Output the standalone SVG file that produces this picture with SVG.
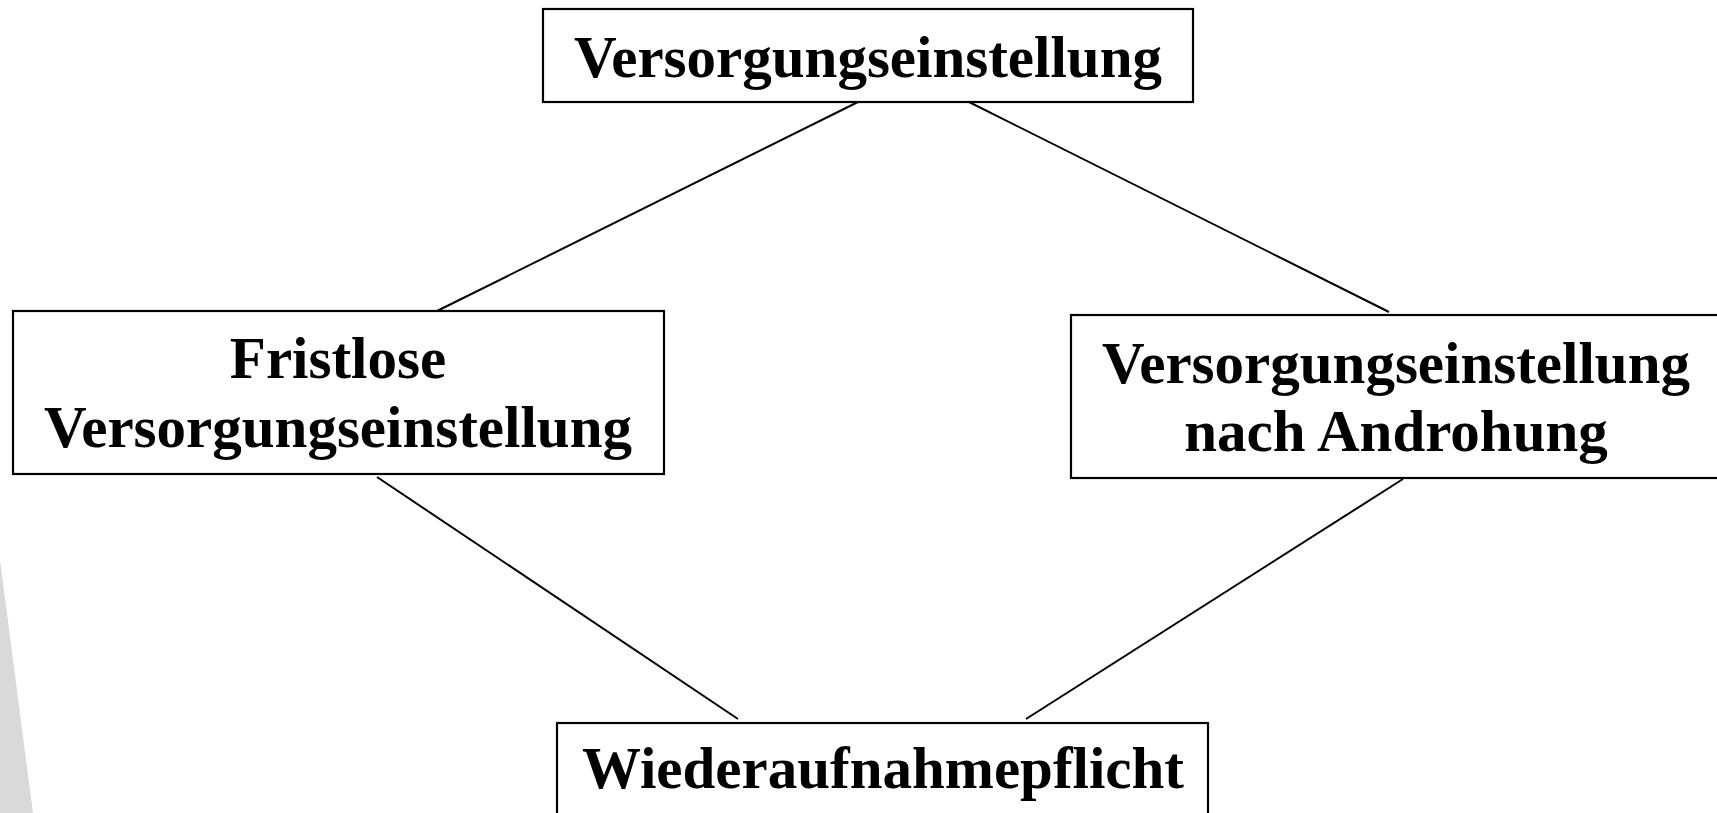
<svg xmlns="http://www.w3.org/2000/svg" width="1717" height="813" viewBox="0 0 1717 813">
<style>
.box{fill:#fff;stroke:#000;stroke-width:2.2}
.t{font-family:"Liberation Serif","Times New Roman",serif;font-size:59px;font-weight:bold;fill:#000;text-anchor:middle}
.c line{stroke:#000;stroke-width:2}
</style>
<rect width="1717" height="813" fill="#fff"/>
<polygon points="0,560 33,813 0,813" fill="#d9d9d9"/>
<g class="c" id="connectors">
<line x1="860" y1="101" x2="437" y2="311"/>
<line x1="967" y1="101" x2="1389" y2="312"/>
<line x1="377" y1="477" x2="738" y2="719"/>
<line x1="1403" y1="479" x2="1026" y2="719"/>
</g>
<g id="top">
<rect class="box" x="543" y="9" width="650" height="93"/>
<text class="t" x="868" y="77">Versorgungseinstellung</text>
</g>
<g id="left">
<rect class="box" x="13" y="311" width="651" height="163"/>
<text class="t" x="338" y="378">Fristlose</text>
<text class="t" x="338" y="447">Versorgungseinstellung</text>
</g>
<g id="right">
<rect class="box" x="1071" y="315" width="660" height="163"/>
<text class="t" x="1396" y="383">Versorgungseinstellung</text>
<text class="t" x="1396" y="451">nach Androhung</text>
</g>
<g id="bottom">
<rect class="box" x="557" y="723" width="651" height="110"/>
<text class="t" x="883" y="788">Wiederaufnahmepflicht</text>
</g>
</svg>
